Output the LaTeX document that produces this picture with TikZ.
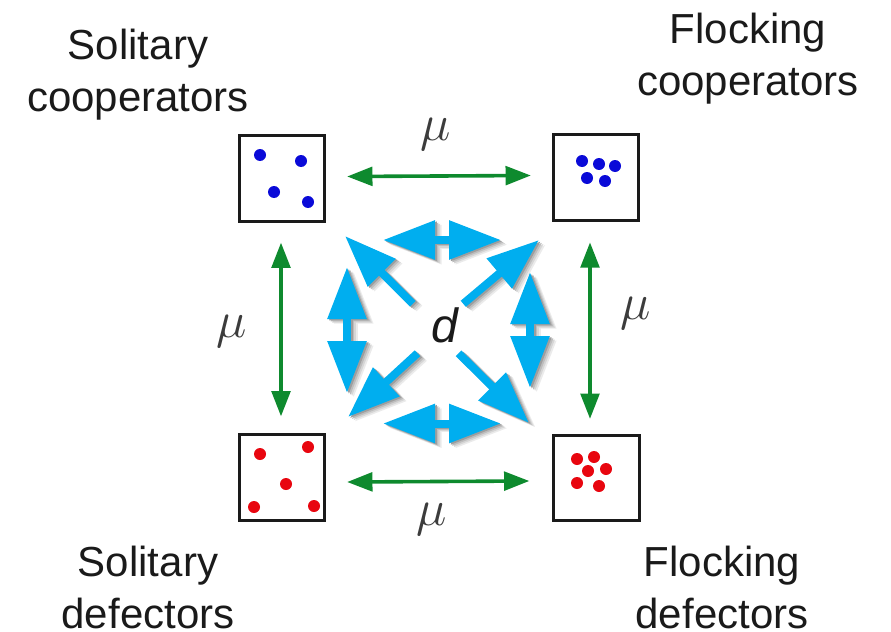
\documentclass[tikz,border=0pt]{standalone}
\usepackage{fontspec}
\setmainfont{Liberation Sans}
\usepackage{tikz}
\usetikzlibrary{arrows.meta,calc}
\definecolor{Ink}{HTML}{1A1A1A}
\definecolor{Leaf}{HTML}{0E8A2E}
\definecolor{Sky}{HTML}{00AEEF}
\definecolor{Coop}{HTML}{0A0AD8}
\definecolor{Def}{HTML}{E8060F}
\newcommand{\bigmu}{\scalebox{1.55}{$\mu$}}
% the eight blue arrows, in the colour in force
\newcommand{\bluearrows}[1]{%
  \draw[blu=#1,tip] (d.140) -- (nw);
  \draw[blu=#1,tip] (d.40) -- (ne);
  \draw[blu=#1,tip] (d.234) -- (sw);
  \draw[blu=#1,tip] (d.306) -- (se);
  \draw[blu=#1,bothtips] (ta) -- (tb);
  \draw[blu=#1,bothtips] (ba) -- (bb);
  \draw[blu=#1,bothtips] (la) -- (lb);
  \draw[blu=#1,bothtips] (ra) -- (rb);
}
\tikzset{
  patch/.style={draw=Ink,line width=2.2pt,fill=white,minimum size=64pt,inner sep=0pt},
  lbl/.style={font=\fontsize{31.5}{39}\selectfont,text=Ink,align=center},
  rate/.style={font=\fontsize{29}{29}\selectfont,text=Ink!85,inner sep=0pt},
  grn/.style={{Triangle[length=19pt,width=14pt]}-{Triangle[length=19pt,width=14pt]},draw=Leaf,line width=2.7pt},
  tip/.style={-{Triangle[length=39pt,width=28pt]}},
  bothtips/.style={{Triangle[length=39pt,width=28pt]}-{Triangle[length=39pt,width=28pt]}},
  blu/.style={draw=#1,line width=6pt},
}
\begin{document}
\begin{tikzpicture}[x=.75pt,y=-.75pt]
\useasboundingbox (0,0) rectangle (891,631);
% the four patches
\node[patch] (tl) at (282,178.5) {};
\node[patch] (tr) at (596,177.5) {};
\node[patch] (bl) at (282,477.5) {};
\node[patch] (br) at (596.5,478) {};
% cooperators
\foreach \x/\y in {260/155,301/161,274/192,308/202,582/161,599/164,615/166,587/178,605/181}
  \fill[Coop] (\x,\y) circle (6);
% defectors
\foreach \x/\y in {260/454,308/447,286/484,254/507,314/506,577/459,594/457,588/471,606/469,577/483,599/486}
  \fill[Def] (\x,\y) circle (6);
% labels
\node[lbl] (solc) at (138,75) {Solitary\\cooperators};
\node[lbl] (floc) at (748,59) {Flocking\\cooperators};
\node[lbl] (sold) at (148,587) {Solitary\\defectors};
\node[lbl] (flod) at (722,587) {Flocking\\defectors};
% green links
\draw[grn] ($(tl.east)+(21,-2)$) -- ($(tr.west)+(-21,-2)$);
\draw[grn] ($(bl.east)+(21,4.5)$) -- ($(br.west)+(-23,3)$);
\draw[grn] ($(tl.south)+(-1,20)$) -- ($(bl.north)+(-1,-17)$);
\draw[grn] ($(tr.north)+(-6,109)$) -- ($(br.north)+(-6.5,-15)$);
\node[rate] (mut) at (436,134) {\bigmu};
\node[rate] (mul) at (232,331) {\bigmu};
\node[rate] (mur) at (636,313) {\bigmu};
\node[rate] (mub) at (432,519) {\bigmu};
% blue diffusion arrows
\node[fill=white,font=\fontsize{36}{36}\selectfont\itshape,text=Ink,minimum width=37.5pt,minimum height=42pt,inner sep=0pt] (d) at (438,325) {\hspace{10pt}d};
\coordinate (nw) at (345,236);
\coordinate (ne) at (539,240);
\coordinate (sw) at (348,417);
\coordinate (se) at (529,423);
\coordinate (ta) at (383,240);
\coordinate (tb) at (501,240);
\coordinate (ba) at (383,423.5);
\coordinate (bb) at (501,423.5);
\coordinate (la) at (347,267);
\coordinate (lb) at (347,393);
\coordinate (ra) at (530,272);
\coordinate (rb) at (530,388);
\foreach \s/\c in {5/8,3.8/16,2.6/26,1.4/38}
  \begin{scope}[transform canvas={shift={(\s pt,-.7*\s pt)}}]
    \bluearrows{black!\c}
  \end{scope};
\bluearrows{Sky}
\end{tikzpicture}
\end{document}
